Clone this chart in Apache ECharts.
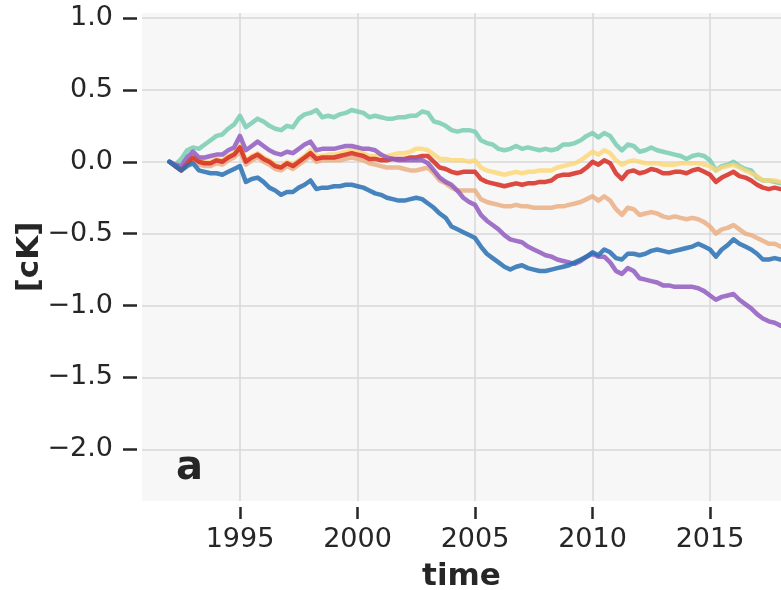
<!DOCTYPE html>
<html>
<head>
<meta charset="utf-8">
<script src="https://cdn.jsdelivr.net/npm/echarts@6/dist/echarts.min.js"></script>
<style>
html,body{margin:0;padding:0;background:#ffffff;}
#chart{width:781px;height:590px;}
</style>
</head>
<body>
<div id="chart"></div>
<script>
// Time axis: quarterly samples 1992.00 .. 2018.00
const times = [];
for (let i = 0; i <= 104; i++) times.push(1992 + i * 0.25);

const xTicks = [1995, 2000, 2005, 2010, 2015];
const yTicks = [-2.0, -1.5, -1.0, -0.5, 0.0, 0.5, 1.0];

const teal = [0,-0.02,0.02,0.08,0.10,0.09,0.12,0.15,0.18,0.19,0.23,0.26,0.32,0.24,0.27,0.30,0.28,0.25,0.23,0.22,
0.25,0.24,0.30,0.33,0.34,0.36,0.31,0.32,0.31,0.33,0.34,0.36,0.35,0.34,0.31,0.32,0.31,0.30,0.30,0.31,
0.31,0.32,0.32,0.35,0.34,0.28,0.27,0.25,0.22,0.21,0.22,0.22,0.21,0.15,0.13,0.12,0.09,0.08,0.09,0.11,
0.09,0.10,0.09,0.08,0.09,0.08,0.09,0.12,0.12,0.13,0.15,0.18,0.20,0.17,0.20,0.18,0.12,0.08,0.12,0.11,
0.07,0.08,0.10,0.08,0.07,0.06,0.05,0.04,0.02,0.04,0.05,0.04,0.01,-0.06,-0.03,-0.02,0.00,-0.03,-0.05,-0.06,
-0.11,-0.13,-0.13,-0.14,-0.15];

const yellow = [0,-0.02,-0.05,0.00,0.04,0.01,0.00,0.00,0.02,0.01,0.04,0.06,0.11,0.01,0.04,0.06,0.03,0.01,-0.02,-0.03,
0.00,-0.02,0.01,0.04,0.08,0.04,0.04,0.05,0.05,0.06,0.07,0.08,0.07,0.06,0.04,0.04,0.03,0.04,0.05,0.06,
0.06,0.07,0.09,0.09,0.08,0.05,0.02,0.02,0.01,0.01,0.01,0.00,0.01,-0.04,-0.06,-0.07,-0.08,-0.09,-0.08,-0.07,
-0.08,-0.07,-0.07,-0.06,-0.06,-0.06,-0.04,-0.03,-0.02,-0.01,0.01,0.04,0.07,0.05,0.08,0.06,0.01,-0.02,0.00,0.01,
0.00,-0.01,-0.01,-0.01,-0.02,-0.02,-0.02,-0.01,-0.01,-0.01,-0.01,-0.02,-0.03,-0.06,-0.04,-0.03,-0.02,-0.04,-0.06,-0.08,
-0.10,-0.13,-0.13,-0.13,-0.14];

const peach = [0,-0.03,-0.06,-0.02,0.01,-0.02,-0.03,-0.03,-0.01,-0.02,0.01,0.03,0.07,-0.02,0.01,0.03,0.00,-0.02,-0.05,-0.06,
-0.03,-0.05,-0.02,0.01,0.04,0.00,0.01,0.01,0.01,0.01,0.02,0.03,0.02,0.01,-0.01,-0.02,-0.03,-0.04,-0.04,-0.04,
-0.05,-0.06,-0.06,-0.05,-0.04,-0.08,-0.13,-0.15,-0.18,-0.20,-0.20,-0.20,-0.20,-0.26,-0.28,-0.29,-0.30,-0.31,-0.31,-0.30,
-0.31,-0.31,-0.32,-0.32,-0.32,-0.32,-0.31,-0.31,-0.30,-0.29,-0.28,-0.26,-0.24,-0.27,-0.24,-0.27,-0.33,-0.37,-0.32,-0.33,
-0.37,-0.36,-0.35,-0.36,-0.38,-0.39,-0.38,-0.39,-0.40,-0.39,-0.40,-0.42,-0.45,-0.50,-0.47,-0.46,-0.44,-0.47,-0.50,-0.51,
-0.53,-0.55,-0.57,-0.57,-0.59];

const red = [0,-0.03,-0.06,-0.01,0.03,0.00,-0.01,-0.01,0.01,0.00,0.03,0.05,0.10,0.00,0.03,0.05,0.02,0.00,-0.03,-0.04,
-0.01,-0.03,0.00,0.03,0.06,0.02,0.03,0.03,0.03,0.04,0.05,0.06,0.05,0.04,0.02,0.02,0.01,0.01,0.02,0.02,
0.02,0.03,0.03,0.04,0.04,0.00,-0.04,-0.05,-0.07,-0.08,-0.07,-0.07,-0.07,-0.12,-0.14,-0.15,-0.16,-0.17,-0.16,-0.15,
-0.16,-0.15,-0.15,-0.14,-0.14,-0.13,-0.10,-0.09,-0.09,-0.08,-0.07,-0.04,0.00,-0.02,0.01,-0.01,-0.08,-0.12,-0.07,-0.06,
-0.08,-0.07,-0.05,-0.06,-0.08,-0.08,-0.07,-0.07,-0.08,-0.06,-0.05,-0.07,-0.09,-0.14,-0.11,-0.09,-0.07,-0.10,-0.11,-0.13,
-0.16,-0.18,-0.19,-0.18,-0.19];

const purple = [0,-0.02,-0.03,0.03,0.07,0.03,0.03,0.04,0.05,0.05,0.08,0.10,0.18,0.08,0.11,0.14,0.11,0.08,0.06,0.05,
0.07,0.06,0.09,0.12,0.14,0.08,0.09,0.09,0.09,0.10,0.11,0.11,0.10,0.09,0.09,0.08,0.05,0.03,0.02,0.01,
0.01,0.01,0.01,0.01,-0.01,-0.06,-0.11,-0.14,-0.16,-0.20,-0.25,-0.28,-0.30,-0.37,-0.41,-0.44,-0.47,-0.51,-0.54,-0.55,
-0.56,-0.59,-0.61,-0.63,-0.65,-0.66,-0.68,-0.69,-0.70,-0.71,-0.69,-0.66,-0.64,-0.66,-0.66,-0.70,-0.76,-0.78,-0.74,-0.76,
-0.81,-0.82,-0.83,-0.84,-0.86,-0.86,-0.87,-0.87,-0.87,-0.87,-0.88,-0.90,-0.93,-0.96,-0.94,-0.93,-0.92,-0.96,-0.99,-1.02,
-1.06,-1.09,-1.11,-1.12,-1.14];

const blue = [0,-0.03,-0.06,-0.03,-0.01,-0.06,-0.07,-0.08,-0.08,-0.09,-0.07,-0.05,-0.03,-0.14,-0.12,-0.11,-0.14,-0.18,-0.20,-0.23,
-0.21,-0.21,-0.18,-0.16,-0.13,-0.19,-0.18,-0.18,-0.17,-0.17,-0.16,-0.16,-0.17,-0.18,-0.20,-0.22,-0.23,-0.25,-0.26,-0.27,
-0.27,-0.26,-0.25,-0.26,-0.29,-0.32,-0.36,-0.39,-0.45,-0.47,-0.49,-0.51,-0.53,-0.59,-0.64,-0.67,-0.70,-0.73,-0.75,-0.73,
-0.72,-0.74,-0.75,-0.76,-0.76,-0.75,-0.74,-0.73,-0.72,-0.70,-0.68,-0.66,-0.63,-0.65,-0.61,-0.63,-0.67,-0.68,-0.64,-0.64,
-0.65,-0.64,-0.62,-0.61,-0.62,-0.63,-0.62,-0.61,-0.60,-0.59,-0.57,-0.59,-0.61,-0.66,-0.61,-0.58,-0.54,-0.57,-0.59,-0.61,
-0.64,-0.68,-0.68,-0.67,-0.68];

const seriesDefs = [
  {name: 'teal', data: teal, color: 'rgba(128,206,182,0.9)'},
  {name: 'yellow', data: yellow, color: 'rgba(253,214,115,0.8)'},
  {name: 'peach', data: peach, color: 'rgba(234,170,125,0.8)'},
  {name: 'red', data: red, color: 'rgba(214,42,32,0.85)'},
  {name: 'purple', data: purple, color: 'rgba(145,90,192,0.85)'},
  {name: 'blue', data: blue, color: 'rgba(40,112,180,0.85)'}
];

const chart = echarts.init(document.getElementById('chart'), null, {renderer: 'canvas'});
const textColor = '#262626';
const fontFam = '"DejaVu Sans", sans-serif';

chart.setOption({
  animation: false,
  backgroundColor: '#ffffff',
  title: {
    text: 'a', left: 171, top: 444,
    textStyle: {fontFamily: fontFam, fontWeight: 'bold', fontSize: 40, color: textColor}
  },
  grid: {left: 142, right: 0, top: 13, bottom: 89, backgroundColor: '#f7f7f7', show: true, borderWidth: 0,
    containLabel: false, outerBoundsMode: 'none'},
  xAxis: {
    type: 'value', min: 1990.83, max: 2018.02,
    offset: 6,
    name: 'time', nameLocation: 'middle', nameGap: 54, nameMoveOverlap: false,
    nameTextStyle: {fontFamily: fontFam, fontWeight: 'bold', fontSize: 31, color: textColor},
    axisLine: {show: false, onZero: false},
    axisTick: {show: true, length: 12, customValues: xTicks, lineStyle: {color: textColor, width: 2.5}},
    axisLabel: {customValues: xTicks, fontFamily: fontFam, fontSize: 27, color: textColor, margin: 19,
      formatter: v => String(v)},
    splitLine: {show: true, lineStyle: {color: '#d9d9d9', width: 1.5}}
  },
  yAxis: {
    type: 'value', min: -2.36, max: 1.035,
    offset: 5,
    name: '[cK]', nameLocation: 'middle', nameGap: 92, nameRotate: 90, nameMoveOverlap: false,
    nameTextStyle: {fontFamily: fontFam, fontWeight: 'bold', fontSize: 31, color: textColor},
    axisLine: {show: false, onZero: false},
    axisTick: {show: true, length: 14, customValues: yTicks, lineStyle: {color: textColor, width: 2.5}},
    axisLabel: {customValues: yTicks, fontFamily: fontFam, fontSize: 27, color: textColor, margin: 24,
      formatter: v => (v < 0 ? '\u2212' : '') + Math.abs(v).toFixed(1)},
    splitLine: {show: true, lineStyle: {color: '#d9d9d9', width: 1.5}}
  },
  series: seriesDefs.map(s => ({
    name: s.name, type: 'line', showSymbol: false, symbol: 'none',
    data: times.map((t, i) => [t, s.data[i]]),
    lineStyle: {color: s.color, width: 4.5, join: 'round', cap: 'round'},
    itemStyle: {color: s.color},
    emphasis: {disabled: true}
  }))
});
</script>
</body>
</html>
